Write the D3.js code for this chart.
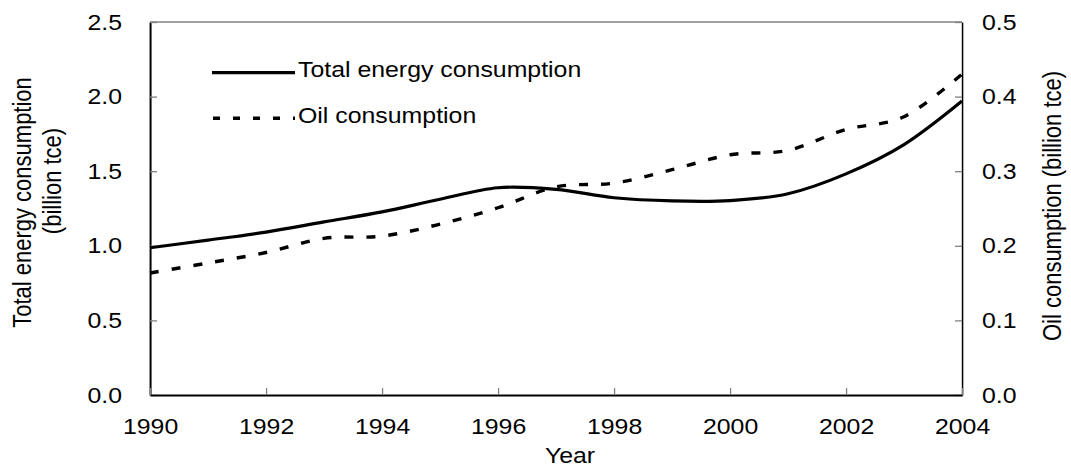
<!DOCTYPE html>
<html>
<head>
<meta charset="utf-8">
<script src="https://cdn.jsdelivr.net/npm/d3@7/dist/d3.min.js"></script>
<style>
  html, body { margin: 0; padding: 0; background: #ffffff; }
  svg { display: block; font-family: "Liberation Sans", Arial, sans-serif; }
  .thin { vector-effect: non-scaling-stroke; }
</style>
</head>
<body>
<div id="chart"></div>
<script>
const years = [1990, 1991, 1992, 1993, 1994, 1995, 1996, 1997, 1998, 1999, 2000, 2001, 2002, 2003, 2004];
// billion tce, left axis
const totalEnergy = [0.987, 1.038, 1.092, 1.160, 1.227, 1.312, 1.389, 1.378, 1.322, 1.301, 1.303, 1.349, 1.482, 1.678, 1.970];
// billion tce, right axis
const oilConsumption = [0.1635, 0.177, 0.191, 0.210, 0.213, 0.229, 0.251, 0.279, 0.284, 0.302, 0.322, 0.328, 0.356, 0.373, 0.430];
const xTicks = [1990, 1992, 1994, 1996, 1998, 2000, 2002, 2004];
const leftTicks = [0, 0.5, 1.0, 1.5, 2.0, 2.5];
const rightTicks = [0, 0.1, 0.2, 0.3, 0.4, 0.5];
const seriesNames = ["Total energy consumption", "Oil consumption"];

const width = 1071, height = 468;
// the original picture is stretched sideways, so draw in a narrower box and stretch it
const SX = 1.13;
const W = width / SX;
const px = (v) => v / SX;
const fontSize = 22;

const plot = { left: px(150), right: px(962), top: 22, bottom: 395 };

const svg = d3.select("#chart")
  .append("svg")
  .attr("width", width)
  .attr("height", height)
  .attr("viewBox", `0 0 ${W} ${height}`)
  .attr("preserveAspectRatio", "none")
  .style("font-size", fontSize + "px");

const x = d3.scaleLinear().domain([1990, 2004]).range([plot.left, plot.right]);
const yL = d3.scaleLinear().domain([0, 2.5]).range([plot.bottom, plot.top]);
const yR = d3.scaleLinear().domain([0, 0.5]).range([plot.bottom, plot.top]);

// top border
svg.append("line")
  .attr("class", "thin")
  .attr("x1", plot.left).attr("x2", plot.right)
  .attr("y1", plot.top).attr("y2", plot.top)
  .attr("stroke", "#808080")
  .attr("stroke-width", 1.5);

function styleAxis(g, domainWidth) {
  g.select(".domain").attr("class", "domain thin").attr("stroke", "#000").attr("stroke-width", domainWidth);
  g.selectAll(".tick line").attr("class", "thin").attr("stroke", "#808080").attr("stroke-width", 1.3);
  g.selectAll(".tick text").attr("fill", "#000").style("font-size", fontSize + "px")
    .style("font-family", '"Liberation Sans", Arial, sans-serif');
}

// left axis
svg.append("g")
  .attr("transform", `translate(${plot.left},0)`)
  .call(d3.axisLeft(yL).tickValues(leftTicks).tickFormat(d3.format(".1f"))
    .tickSizeInner(-px(7)).tickSizeOuter(0).tickPadding(px(28)))
  .call((g) => styleAxis(g, 2));

// right axis
svg.append("g")
  .attr("transform", `translate(${plot.right},0)`)
  .call(d3.axisRight(yR).tickValues(rightTicks).tickFormat(d3.format(".1f"))
    .tickSizeInner(-px(7)).tickSizeOuter(0).tickPadding(px(20)))
  .call((g) => styleAxis(g, 1.5));

// bottom axis
svg.append("g")
  .attr("transform", `translate(0,${plot.bottom})`)
  .call(d3.axisBottom(x).tickValues(xTicks).tickFormat(d3.format("d"))
    .tickSizeInner(-7).tickSizeOuter(0).tickPadding(23.4))
  .call((g) => styleAxis(g, 2));

// lines
const totalLine = d3.line()
  .x((d, i) => x(years[i]))
  .y((d) => yL(d))
  .curve(d3.curveCardinal.tension(0));

const oilLine = d3.line()
  .x((d, i) => x(years[i]))
  .y((d) => yR(d))
  .curve(d3.curveCardinal.tension(0));

svg.append("path")
  .datum(oilConsumption)
  .attr("class", "thin")
  .attr("d", oilLine)
  .attr("fill", "none")
  .attr("stroke", "#000")
  .attr("stroke-width", 3.4)
  .attr("stroke-dasharray", "9,13");

svg.append("path")
  .datum(totalEnergy)
  .attr("class", "thin")
  .attr("d", totalLine)
  .attr("fill", "none")
  .attr("stroke", "#000")
  .attr("stroke-width", 3.2);

// legend
const legend = svg.append("g");
legend.append("line")
  .attr("class", "thin")
  .attr("x1", px(212)).attr("x2", px(295))
  .attr("y1", 72.7).attr("y2", 72.7)
  .attr("stroke", "#000").attr("stroke-width", 3.2);
legend.append("text")
  .attr("x", px(298)).attr("y", 77.5)
  .text(seriesNames[0]);

legend.append("line")
  .attr("class", "thin")
  .attr("x1", px(213)).attr("x2", px(295))
  .attr("y1", 118.3).attr("y2", 118.3)
  .attr("stroke", "#000").attr("stroke-width", 3.4)
  .attr("stroke-dasharray", "7,13");
legend.append("text")
  .attr("x", px(298)).attr("y", 123.5)
  .text(seriesNames[1]);

// axis titles
svg.append("text")
  .attr("text-anchor", "middle")
  .attr("x", px(570)).attr("y", 463.5)
  .text("Year");

svg.append("text")
  .attr("text-anchor", "middle")
  .attr("transform", `translate(${px(30.5)},202.5) rotate(-90)`)
  .text("Total energy consumption");

svg.append("text")
  .attr("text-anchor", "middle")
  .attr("transform", `translate(${px(60.5)},181) rotate(-90)`)
  .text("(billion tce)");

svg.append("text")
  .attr("text-anchor", "middle")
  .attr("transform", `translate(${px(1061)},206) rotate(-90)`)
  .text("Oil consumption (billion tce)");
</script>
</body>
</html>
